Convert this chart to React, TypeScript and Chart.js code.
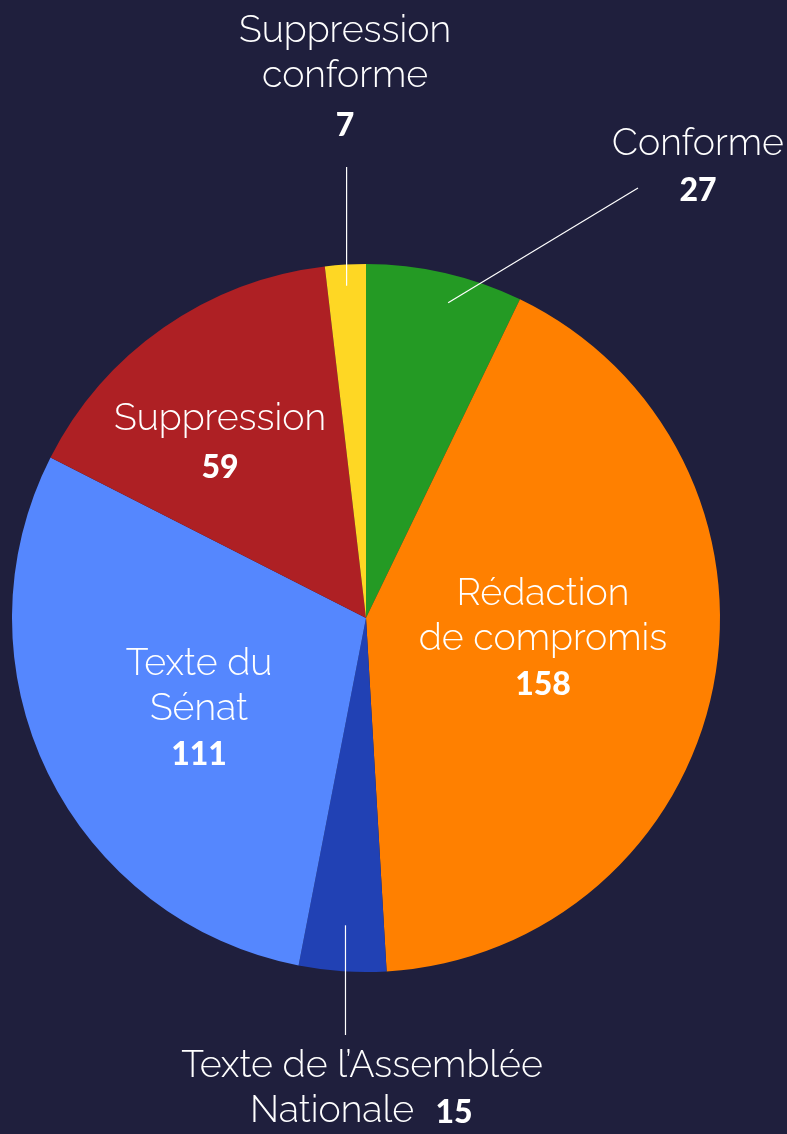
import React, { useEffect, useRef } from "react";
import { Chart, registerables } from "chart.js";

Chart.register(...registerables);

const categories = [
  "Conforme",
  "Rédaction de compromis",
  "Texte de l’Assemblée Nationale",
  "Texte du Sénat",
  "Suppression",
  "Suppression conforme",
];
const values = [27, 158, 15, 111, 59, 7];
const colors = ["#249a24", "#ff8000", "#2141b4", "#5587fe", "#ae2024", "#fed724"];
const labelLines = [
  ["Conforme"],
  ["Rédaction", "de compromis"],
  ["Texte de l’Assemblée", "Nationale"],
  ["Texte du", "Sénat"],
  ["Suppression"],
  ["Suppression", "conforme"],
];

// label layout relative to pie centre (positions, not data)
const layout = [
  { x: 332, y: -474, numGap: 47, leader: { r: 0.92, ex: 272, ey: -430, da: 0.03 } },
  { x: 177, y: -24, numGap: 46 },
  { x: -4, y: 448, inline: { textX: -34, numX: 88 }, leader: { r: 0.87, ey: 417, vertical: true } },
  { x: -167, y: 46, numGap: 46 },
  { x: -146, y: -199, numGap: 49 },
  { x: -21, y: -587, numGap: 50, leader: { r: 0.94, ey: -451, vertical: true } },
];

const BG = "#1f1f3d";
const LIGHT = "300 37.5px Raleway, Lato, 'Open Sans', sans-serif";
const BOLD = "900 32px Lato, 'Open Sans', sans-serif";
const LINE_H = 45;

const labelPlugin = {
  id: "pieLabels",
  afterDatasetsDraw(chart: any) {
    const ctx = chart.ctx;
    const meta = chart.getDatasetMeta(0);
    ctx.save();
    ctx.fillStyle = "#ffffff";
    ctx.strokeStyle = "#ffffff";
    ctx.textAlign = "center";
    ctx.textBaseline = "middle";
    meta.data.forEach((arc: any, i: number) => {
      const cx = arc.x;
      const cy = arc.y;
      const R = arc.outerRadius;
      const L: any = layout[i];
      const mid = (arc.startAngle + arc.endAngle) / 2 + (L.leader?.da || 0);
      if (L.leader) {
        const sx = cx + Math.cos(mid) * R * L.leader.r;
        const sy = cy + Math.sin(mid) * R * L.leader.r;
        const ex = L.leader.vertical ? sx : cx + L.leader.ex;
        const ey = cy + L.leader.ey;
        ctx.lineWidth = 1.2;
        ctx.beginPath();
        ctx.moveTo(sx, sy);
        ctx.lineTo(ex, ey);
        ctx.stroke();
      }
      const lines = labelLines[i];
      const value = String(values[i]);
      if (L.inline) {
        ctx.font = LIGHT;
        ctx.fillText(lines[0], cx + L.x, cy + L.y);
        ctx.fillText(lines[1], cx + L.inline.textX, cy + L.y + LINE_H);
        ctx.font = BOLD;
        ctx.fillText(value, cx + L.inline.numX, cy + L.y + LINE_H + 2);
      } else {
        ctx.font = LIGHT;
        lines.forEach((t: string, k: number) => ctx.fillText(t, cx + L.x, cy + L.y + k * LINE_H));
        ctx.font = BOLD;
        ctx.fillText(value, cx + L.x, cy + L.y + (lines.length - 1) * LINE_H + L.numGap);
      }
    });
    ctx.restore();
  },
};

const bgPlugin = {
  id: "bg",
  beforeDraw(chart: any) {
    const ctx = chart.ctx;
    ctx.save();
    ctx.fillStyle = BG;
    ctx.fillRect(0, 0, chart.width, chart.height);
    ctx.restore();
  },
};

export default function App() {
  const ref = useRef<HTMLCanvasElement>(null);
  useEffect(() => {
    if (!ref.current) return;
    const chart = new Chart(ref.current, {
      type: "pie",
      data: {
        labels: categories,
        datasets: [
          {
            data: values,
            backgroundColor: colors,
            borderWidth: 0,
          },
        ],
      },
      options: {
        responsive: false,
        animation: false,
        layout: { padding: { left: 12, right: 67, top: 264, bottom: 162 } },
        plugins: {
          legend: { display: false },
          tooltip: { enabled: false },
        },
      },
      plugins: [bgPlugin, labelPlugin],
    });
    return () => chart.destroy();
  }, []);
  return (
    <div style={{ position: "absolute", left: 0, top: 0, width: 787, height: 1134, background: BG }}>
      <canvas ref={ref} width={787} height={1134} style={{ display: "block" }} />
    </div>
  );
}
